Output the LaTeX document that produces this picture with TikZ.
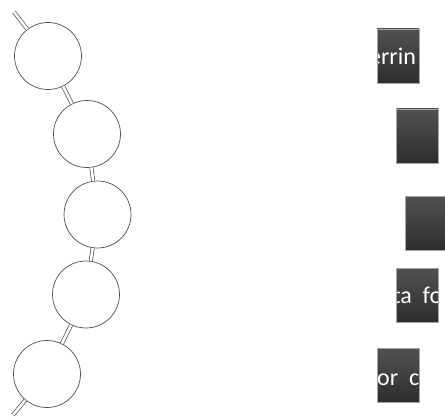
\documentclass[tikz,border=0pt]{standalone}
\usepackage{fontspec}
\newfontfamily\boxfont[WordSpace=2.0]{Carlito}
\usetikzlibrary{calc}

\begin{document}
\begin{tikzpicture}[x=1pt,y=-1pt,
    bead/.style={circle,draw=black!70,line width=0.7pt,fill=white,minimum size=67pt,inner sep=0pt},
    rod/.style={draw=black!70,line width=0.7pt,double=white,double distance=2.6pt},
    tag/.style={rectangle,minimum width=42pt,minimum height=54pt,inner sep=0pt,
      top color=black!68,bottom color=black!82,draw=black!35,line width=0.3pt},
    tagtext/.style={text=white,inner sep=0pt,anchor=base west,font=\boxfont\fontsize{24}{24}\selectfont}]
  \useasboundingbox (0,0) rectangle (445,420);

  % chain of beads
  \coordinate (top) at (14,12);
  \coordinate (bottom) at (13,415);
  \node[bead] (b1) at (48,56) {};
  \node[bead] (b2) at (87,134) {};
  \node[bead] (b3) at (97.5,214.5) {};
  \node[bead] (b4) at (86,294.5) {};
  \node[bead] (b5) at (47,374) {};

  \draw[rod] (top) -- (b1);
  \draw[rod] (b1) -- (b2);
  \draw[rod] (b2) -- (b3);
  \draw[rod] (b3) -- (b4);
  \draw[rod] (b4) -- (b5);
  \draw[rod] (b5) -- (bottom);

  % cut off labels
  \node[tag,path picture={
      \node[tagtext] (t1) at ($(path picture bounding box.north west)+(-8pt,-36pt)$) {errin};}]
    (r1) at (398,56) {};
  \node[tag] (r2) at (417.5,136) {};
  \node[tag,minimum width=43pt] (r3) at (426.5,223) {};
  \node[tag,path picture={
      \node[tagtext] (t4) at ($(path picture bounding box.north west)+(-4pt,-35pt)$) {ta fo};}]
    (r4) at (417.5,295) {};
  \node[tag,path picture={
      \node[tagtext] (t5) at ($(path picture bounding box.north west)+(0pt,-37pt)$) {or c};}]
    (r5) at (398,375) {};
\end{tikzpicture}
\end{document}
